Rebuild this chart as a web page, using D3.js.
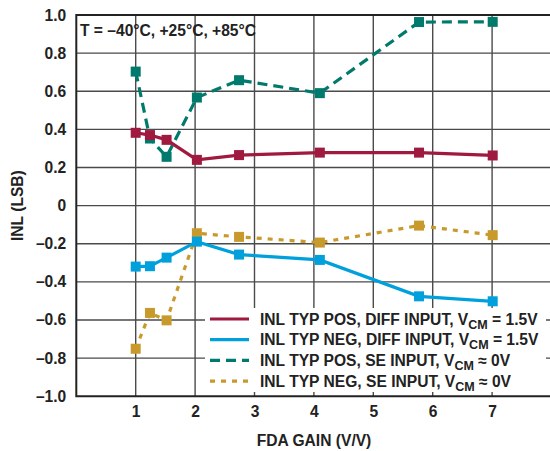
<!DOCTYPE html>
<html>
<head>
<meta charset="utf-8">
<script src="https://cdn.jsdelivr.net/npm/d3@7"></script>
<style>
  body { margin: 0; background: #fff; }
  text { font-family: "Liberation Sans", Arial, sans-serif; font-weight: bold; }
</style>
</head>
<body>
<svg id="chart" width="550" height="451"></svg>
<script>
const gains = [1, 1.24, 1.52, 2.03, 2.74, 4.1, 5.77, 7.01];
const diffPos = [0.382, 0.370, 0.345, 0.240, 0.265, 0.278, 0.278, 0.263];
const diffNeg = [-0.320, -0.318, -0.273, -0.189, -0.257, -0.285, -0.476, -0.502];
const sePos = [0.703, 0.352, 0.256, 0.567, 0.658, 0.590, 0.963, 0.964];
const seNeg = [-0.751, -0.563, -0.602, -0.145, -0.164, -0.194, -0.105, -0.155];
const xTicks = [1, 2, 3, 4, 5, 6, 7];
const yTicks = [-1.0, -0.8, -0.6, -0.4, -0.2, 0, 0.2, 0.4, 0.6, 0.8, 1.0];
const seriesNames = [
  ["INL TYP POS, DIFF INPUT, V", "CM", " = 1.5V"],
  ["INL TYP NEG, DIFF INPUT, V", "CM", " = 1.5V"],
  ["INL TYP POS, SE INPUT, V", "CM", " \u2248 0V"],
  ["INL TYP NEG, SE INPUT, V", "CM", " \u2248 0V"]
];
const colors = ["#a0193f", "#00a0dc", "#007a6c", "#c89a2c"];
const dashes = [null, null, "10,6", "5,6"];
const titleText = "T = \u201340\u00b0C, +25\u00b0C, +85\u00b0C";

const svg = d3.select("#chart");
const x = d3.scaleLinear().domain([0, 8]).range([76.3, 551.5]);
const y = d3.scaleLinear().domain([-1, 1]).range([396.2, 15]);

const fmtY = v => (v === 0 ? "0" : (v < 0 ? "\u2013" : "") + d3.format(".1f")(Math.abs(v)));
const FS = 15.6;

// gridlines
const grid = svg.append("g");
grid.selectAll("line.h").data(yTicks.filter(v => v > -1 && v < 1)).enter().append("line")
  .attr("x1", x(0)).attr("x2", x(8)).attr("y1", d => y(d)).attr("y2", d => y(d))
  .attr("stroke", "#4a4a4a").attr("stroke-width", 1.4);
grid.selectAll("line.v").data(xTicks).enter().append("line")
  .attr("y1", y(-1)).attr("y2", y(1)).attr("x1", d => x(d)).attr("x2", d => x(d))
  .attr("stroke", "#4a4a4a").attr("stroke-width", 1.4);

// border
svg.append("path")
  .attr("d", `M${x(8)},${y(1)}H${x(0)}V${y(-1)}H${x(8)}`)
  .attr("fill", "none").attr("stroke", "#222").attr("stroke-width", 2);

// axes labels via d3 axes
const yAxis = svg.append("g").attr("transform", `translate(${x(0)},0)`)
  .call(d3.axisLeft(y).tickValues(yTicks).tickFormat(fmtY).tickSize(0).tickPadding(10));
yAxis.select(".domain").remove();
yAxis.selectAll("text").attr("font-size", FS).attr("fill", "#222")
  .style("font-family", "Liberation Sans, Arial, sans-serif").style("font-weight", "bold");

const xAxis = svg.append("g").attr("transform", `translate(0,${y(-1)})`)
  .call(d3.axisBottom(x).tickValues(xTicks).tickFormat(d3.format("d")).tickSize(0).tickPadding(10));
xAxis.select(".domain").remove();
xAxis.selectAll("text").attr("font-size", FS).attr("fill", "#222")
  .style("font-family", "Liberation Sans, Arial, sans-serif").style("font-weight", "bold");

svg.append("text").attr("x", 314).attr("y", 446).attr("text-anchor", "middle")
  .attr("font-size", FS).attr("fill", "#222").text("FDA GAIN (V/V)");
svg.append("text").attr("transform", `translate(23,${y(0)}) rotate(-90)`).attr("text-anchor", "middle")
  .attr("font-size", FS).attr("fill", "#222").text("INL (LSB)");

// title in plot
svg.append("text").attr("x", 80).attr("y", 36).attr("font-size", FS).attr("fill", "#222").text(titleText);

// series
const allSeries = [diffPos, diffNeg, sePos, seNeg];
const line = d3.line().x(d => x(d[0])).y(d => y(d[1]));
const drawOrder = [3, 2, 1, 0];
drawOrder.forEach(i => {
  const pts = gains.map((g, k) => [g, allSeries[i][k]]);
  const g = svg.append("g");
  g.append("path").attr("d", line(pts)).attr("fill", "none")
    .attr("stroke", colors[i]).attr("stroke-width", 3.2)
    .attr("stroke-dasharray", dashes[i]);
  g.selectAll("rect").data(pts).enter().append("rect")
    .attr("x", d => x(d[0]) - 5).attr("y", d => y(d[1]) - 5)
    .attr("width", 10).attr("height", 10).attr("fill", colors[i]);
});

// legend
const lg = svg.append("g");
lg.append("rect").attr("x", 205).attr("y", 308).attr("width", 341).attr("height", 84).attr("fill", "#fff");
seriesNames.forEach((nm, i) => {
  const cy = 319 + i * 20.7;
  lg.append("line").attr("x1", 210).attr("x2", 249).attr("y1", cy).attr("y2", cy)
    .attr("stroke", colors[i]).attr("stroke-width", 3.2).attr("stroke-dasharray", dashes[i]);
  const t = lg.append("text").attr("x", 260).attr("y", cy + 5.5).attr("font-size", FS).attr("fill", "#222");
  t.append("tspan").text(nm[0]);
  t.append("tspan").attr("font-size", 12.5).attr("dy", 4).text(nm[1]);
  t.append("tspan").attr("dy", -4).text(nm[2]);
});
</script>
</body>
</html>
